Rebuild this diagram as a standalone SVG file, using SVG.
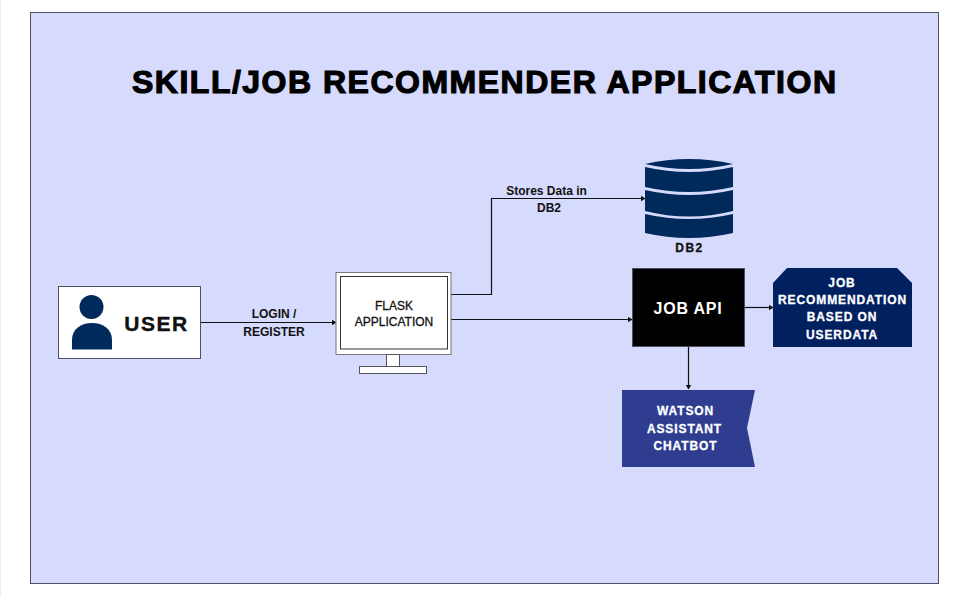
<svg xmlns="http://www.w3.org/2000/svg" width="966" height="597" viewBox="0 0 966 597">
<defs>
<marker id="arrow" markerWidth="5" markerHeight="6" refX="4.5" refY="3" orient="auto" markerUnits="userSpaceOnUse"><path d="M0 0L5 3L0 6Z" fill="#111"/></marker>
</defs>
<style>
text{font-family:"Liberation Sans",Arial,sans-serif;font-weight:bold;text-anchor:middle}
.label{font-size:12px;fill:#111}
.white{font-size:12px;fill:#fff;letter-spacing:.9px;stroke:#fff;stroke-width:.3px}
.conn{fill:none;stroke:#111;stroke-width:1.2;marker-end:url(#arrow)}
.navy{fill:#002a5c}
.frame{fill:#fff;stroke:#4d5060;stroke-width:1}
</style>
<rect width="966" height="597" fill="#fff"/>
<rect x="0" y="0" width="1" height="597" fill="#eeeeee"/>
<g id="background"><rect x="30.5" y="12.5" width="908" height="571" fill="#d6dafc" stroke="#4d5060" stroke-width="1"/></g>
<g id="title"><text x="484" y="93" font-size="32" textLength="704" lengthAdjust="spacing" fill="#000" stroke="#000" stroke-width="1.2">SKILL/JOB RECOMMENDER APPLICATION</text></g>
<g id="connectors">
<path class="conn" d="M201 322.500H336"/>
<path class="conn" d="M451 294.500H491.500V198.500H645"/>
<path class="conn" d="M451 319.500H632"/>
<path class="conn" d="M745 307.500H773"/>
<path class="conn" d="M688.500 347V389"/>
</g>
<g id="edge-labels">
<text class="label" x="274" y="318">LOGIN /</text>
<text class="label" x="274" y="336">REGISTER</text>
<text class="label" x="546.500" y="195">Stores Data in</text>
<text class="label" x="549" y="212">DB2</text>
</g>
<g id="user">
<rect class="frame" x="58.500" y="286.500" width="142" height="72"/>
<circle class="navy" cx="91.500" cy="307" r="12"/>
<path class="navy" d="M72 349.500V340C72 329 81 323 92 323S112 329 112 340V349.500Z"/>
<text x="156.500" y="331" font-size="21" letter-spacing="1.500" fill="#111" stroke="#111" stroke-width=".4">USER</text>
</g>
<g id="flask">
<rect x="336" y="272.500" width="115" height="82" fill="#fff" stroke="#777" stroke-width="1"/>
<rect x="340.500" y="276.500" width="107" height="72.500" fill="#fff" stroke="#333" stroke-width="1"/>
<rect x="386.500" y="354.500" width="13" height="12" fill="#fff" stroke="#555"/>
<rect x="359.500" y="366.500" width="67" height="7" fill="#fff" stroke="#555"/>
<text x="394" y="310" font-size="12" style="font-weight:normal" fill="#111" stroke="#111" stroke-width=".3">FLASK</text>
<text x="394" y="325.500" font-size="12" style="font-weight:normal" fill="#111" stroke="#111" stroke-width=".3">APPLICATION</text>
</g>
<g id="db2">
<path class="navy" d="M645 164Q689 154 733 164Q689 174 645 164Z"/>
<path class="navy" d="M645 167Q689 177 733 167V187Q689 197 645 187Z"/>
<path class="navy" d="M645 190Q689 200 733 190V211Q689 222 645 211Z"/>
<path class="navy" d="M645 214Q689 224 733 214V233Q689 243 645 233Z"/>
<text x="689.500" y="252" font-size="12" letter-spacing="1.500" fill="#111" stroke="#111" stroke-width=".3">DB2</text>
</g>
<g id="job-api">
<rect x="632.500" y="268.500" width="112" height="78" fill="#000" stroke="#4d5060"/>
<text x="688" y="314" font-size="16" letter-spacing=".8" fill="#fff">JOB API</text>
</g>
<g id="job-recommendation">
<path class="navy" style="fill:#00205f" d="M773 347V283L787 268H897L912 283V347Z"/>
<text class="white" x="842" y="287">JOB</text>
<text class="white" x="842.500" y="304">RECOMMENDATION</text>
<text class="white" x="842" y="321">BASED ON</text>
<text class="white" x="842" y="339">USERDATA</text>
</g>
<g id="watson">
<path d="M622 390H755L747 428L755 467H622Z" fill="#2e3d8f"/>
<text class="white" x="685.500" y="415">WATSON</text>
<text class="white" x="684.500" y="433">ASSISTANT</text>
<text class="white" x="685.500" y="449.500">CHATBOT</text>
</g>
</svg>
